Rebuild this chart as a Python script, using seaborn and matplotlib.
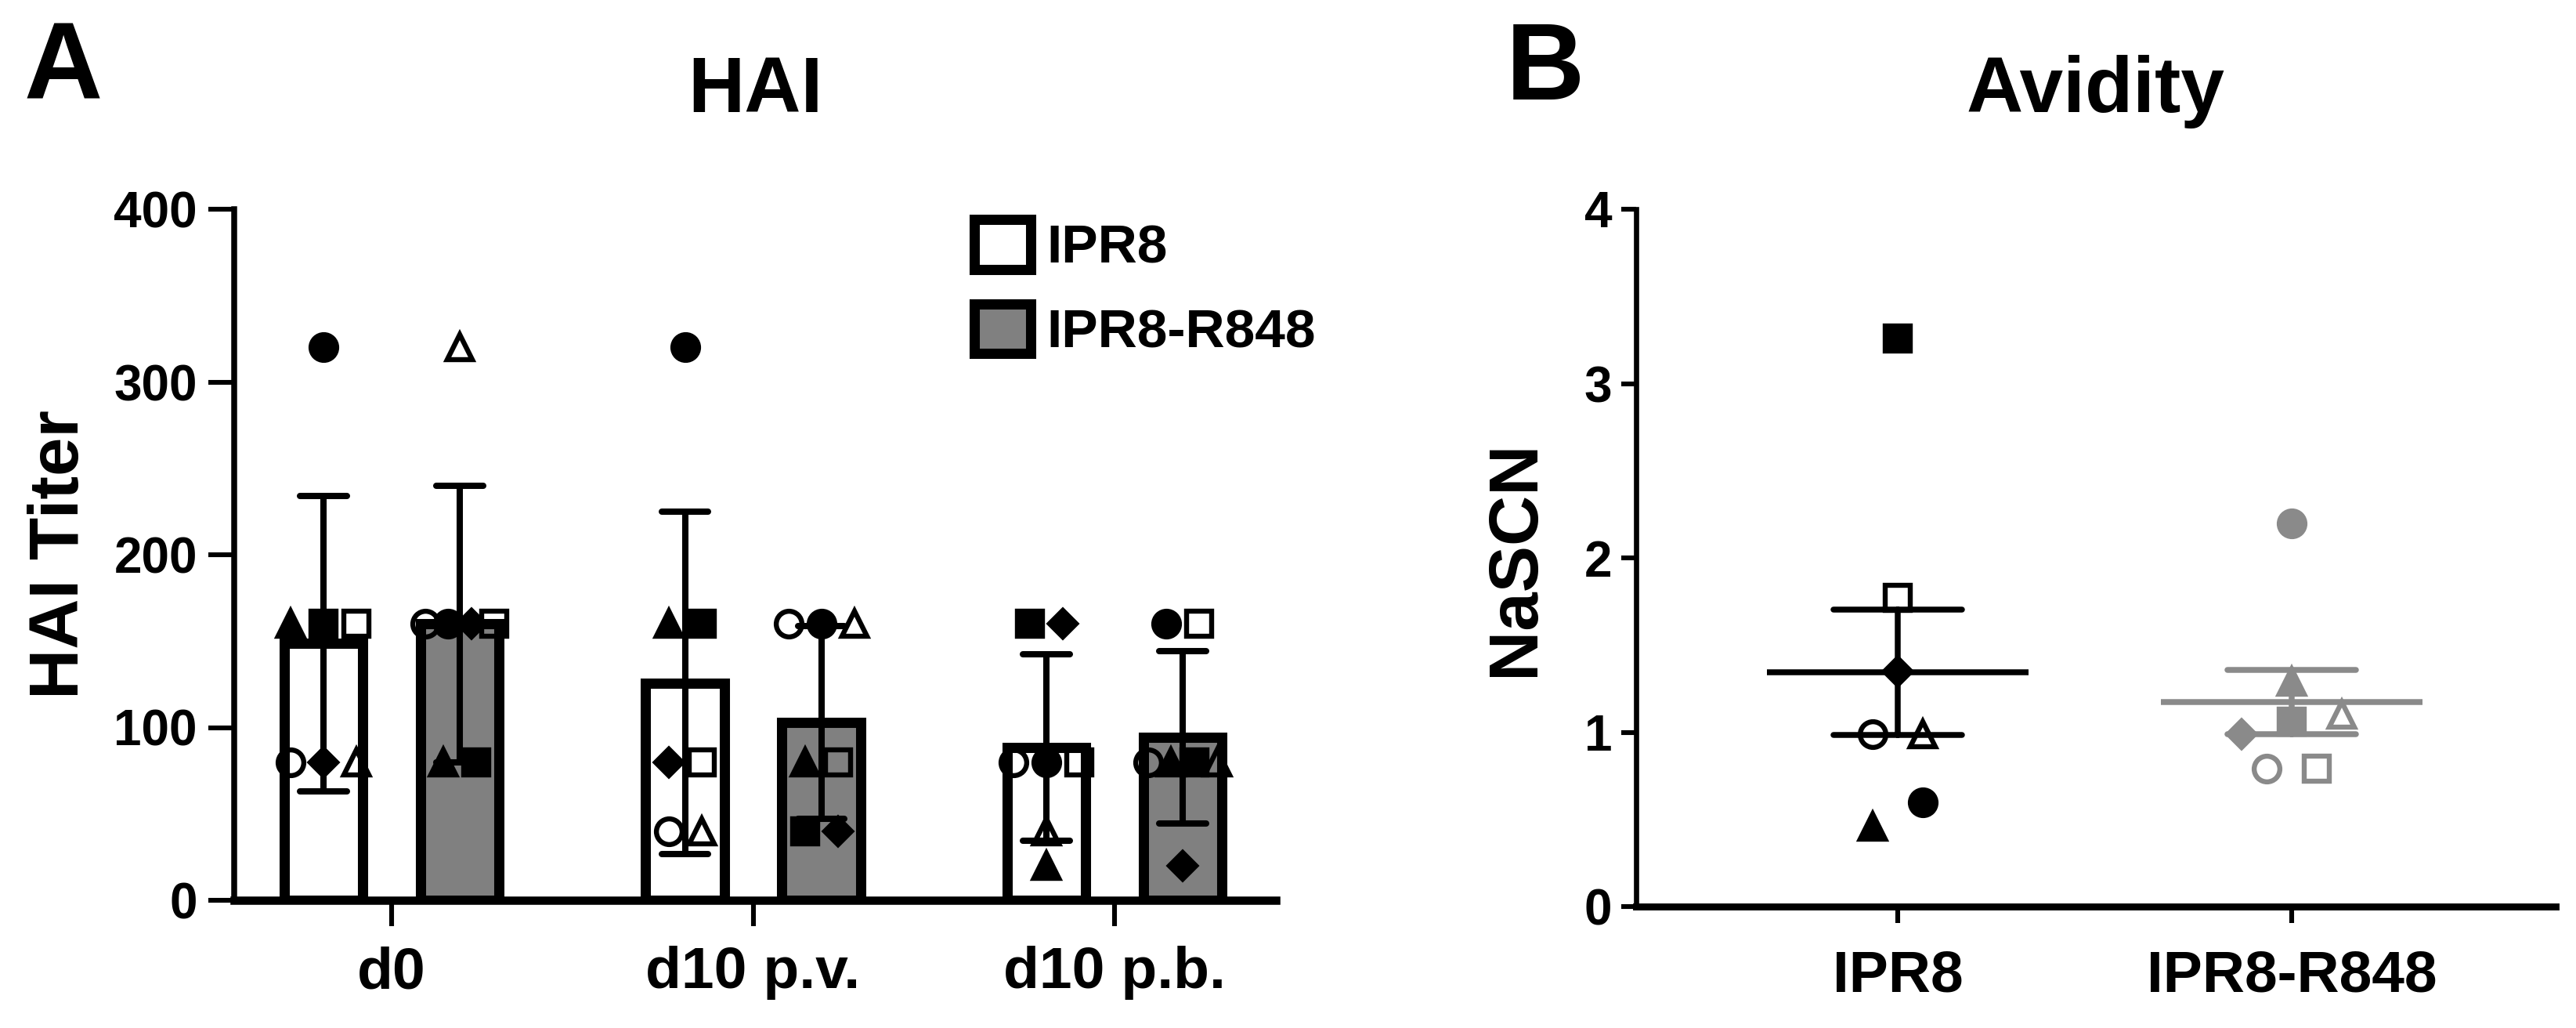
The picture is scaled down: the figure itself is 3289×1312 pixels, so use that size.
"""
Figura HAI (barras + puntos por raton) y avidez (NaSCN, media +/- SEM).
"""

import numpy as np
import pandas as pd
import matplotlib
matplotlib.use('Agg')
import matplotlib.pyplot as plt
from matplotlib.patches import Patch
import seaborn as sns

# ---------------------------------------------------------------
# Datos
# ---------------------------------------------------------------
days = ['d0', 'd10 p.v.', 'd10 p.b.']
groups = ['IPR8', 'IPR8-R848']

# Un simbolo por raton (mismo orden en todas las listas)
animal_markers = ['o', 'o', '^', 's', 'D', 's', '^']
animal_filled = [False, True, True, True, True, False, False]

# Titulos HAI por dia y grupo
hai_d0_ipr8 = [80, 320, 160, 160, 80, 160, 80]
hai_d0_r848 = [160, 160, 80, 80, 160, 160, 320]
hai_pv_ipr8 = [40, 320, 160, 160, 80, 80, 40]
hai_pv_r848 = [160, 160, 80, 40, 40, 80, 160]
hai_pb_ipr8 = [80, 80, 20, 160, 160, 80, 40]
hai_pb_r848 = [80, 160, 80, 80, 20, 160, 80]

# Avidez (NaSCN)
avidity_ipr8 = [0.99, 0.60, 0.46, 3.26, 1.35, 1.77, 0.99]
avidity_r848 = [0.79, 2.20, 1.29, 1.06, 0.99, 0.79, 1.10]

hai_ticks = [0, 100, 200, 300, 400]
avidity_ticks = [0, 1, 2, 3, 4]

bar_colors = {'IPR8': 'white', 'IPR8-R848': '#808080'}
point_colors = {'IPR8': 'black', 'IPR8-R848': '#8a8a8a'}

# ---------------------------------------------------------------
# Estilo
# ---------------------------------------------------------------
sns.set_style('ticks')
plt.rcParams['font.family'] = ['Liberation Sans', 'DejaVu Sans']
plt.rcParams['font.weight'] = 'bold'
plt.rcParams['axes.labelweight'] = 'bold'
for key in ['text.color', 'axes.labelcolor', 'axes.edgecolor',
            'xtick.color', 'ytick.color']:
    plt.rcParams[key] = 'black'

W, H, DPI = 3289, 1312, 200
MS = 11.8          # tamano de marcador (pt)
MEW = 2.3          # borde de marcador (pt)
BAR_WIDTH = 0.754  # ancho total de cada grupo de barras


def spread_offsets(vals, thr, step, max_span):
    """Reparte en horizontal los puntos con valores (casi) iguales."""
    order = sorted(range(len(vals)), key=lambda i: vals[i])
    clusters = []
    for i in order:
        if clusters and vals[i] - vals[clusters[-1][-1]] < thr:
            clusters[-1].append(i)
        else:
            clusters.append([i])
    offs = np.zeros(len(vals))
    for c in clusters:
        n = len(c)
        if n < 2:
            continue
        st = min(step, max_span / (n - 1))
        for k, i in enumerate(c):
            offs[i] = (k - (n - 1) / 2) * st
    return offs


def draw_points(ax, x0, vals, color, thr, step, max_span):
    offs = spread_offsets(vals, thr, step, max_span)
    for k, v in enumerate(vals):
        m = animal_markers[k]
        size = MS * 0.72 if m == 'D' else MS
        face = color if animal_filled[k] else 'none'
        ax.plot(x0 + offs[k], v, marker=m, ms=size, mfc=face, mec=color,
                mew=MEW, ls='none', zorder=6, clip_on=False)


fig = plt.figure(figsize=(W / DPI, H / DPI), dpi=DPI)
axA = fig.add_axes([299 / W, 1 - 1149 / H, (1629 - 299) / W, (1149 - 267) / H])
axB = fig.add_axes([2089 / W, 1 - 1157 / H, (3263 - 2089) / W, (1157 - 267) / H])

# ---------------------------------------------------------------
# Panel A: HAI
# ---------------------------------------------------------------
hai_ipr8 = [hai_d0_ipr8, hai_pv_ipr8, hai_pb_ipr8]
hai_r848 = [hai_d0_r848, hai_pv_r848, hai_pb_r848]

rows = []
for day, v1, v2 in zip(days, hai_ipr8, hai_r848):
    for g, vals in zip(groups, [v1, v2]):
        for k, v in enumerate(vals):
            rows.append({'day': day, 'group': g, 'animal': k, 'value': v})
df_hai = pd.DataFrame(rows)

sns.barplot(data=df_hai, x='day', y='value', hue='group', order=days,
            hue_order=groups, palette=bar_colors, saturation=1,
            edgecolor='black', linewidth=4.7, width=BAR_WIDTH, gap=0.42,
            errorbar='sd', capsize=0.256,
            err_kws={'linewidth': 2.9, 'color': 'black'},
            legend=False, ax=axA)

for d, day in enumerate(days):
    for h, g in enumerate(groups):
        x0 = d + (h - 0.5) * BAR_WIDTH / 2
        vals = hai_ipr8[d] if g == 'IPR8' else hai_r848[d]
        draw_points(axA, x0, vals, 'black', thr=1, step=0.091, max_span=0.19)

axA.set_ylim(0, 400)
axA.set_yticks(hai_ticks)
axA.set_xlim(-0.4355, 2.4463)
axA.set_xlabel('')
axA.set_ylabel('HAI Titer', fontsize=32)
axA.yaxis.set_label_coords(-0.135, 0.5)
axA.tick_params(axis='y', labelsize=23, length=12, width=2.2, pad=5)
axA.tick_params(axis='x', labelsize=27, length=12, width=2.2, pad=9)
sns.despine(ax=axA)
axA.spines['left'].set_linewidth(2.7)
axA.spines['bottom'].set_linewidth(3.8)

handles = [Patch(facecolor=bar_colors[g], edgecolor='black', linewidth=4.7,
                 label=g) for g in groups]
axA.legend(handles=handles, loc='upper left',
           bbox_to_anchor=(1244 / W, 1 - 280 / H), bbox_transform=fig.transFigure,
           frameon=False, fontsize=25, handlelength=1.03, handleheight=1.03,
           handletextpad=0.3, labelspacing=0.55, borderpad=0, borderaxespad=0)

# ---------------------------------------------------------------
# Panel B: avidez
# ---------------------------------------------------------------
df_av = pd.DataFrame({
    'group': [groups[0]] * len(avidity_ipr8) + [groups[1]] * len(avidity_r848),
    'value': avidity_ipr8 + avidity_r848,
})

sns.pointplot(data=df_av, x='group', y='value', hue='group', order=groups,
              hue_order=groups, palette=point_colors, errorbar='se',
              capsize=0.327, markers='_', markersize=120, markeredgewidth=2.7,
              linestyle='none', err_kws={'linewidth': 2.7}, legend=False,
              ax=axB)

for h, g in enumerate(groups):
    vals = avidity_ipr8 if g == 'IPR8' else avidity_r848
    draw_points(axB, h, vals, point_colors[g], thr=0.16, step=0.128, max_span=0.3)

axB.set_ylim(0, 4)
axB.set_yticks(avidity_ticks)
axB.set_xlim(-0.664, 1.670)
axB.set_xlabel('')
axB.set_ylabel('NaSCN', fontsize=32)
axB.yaxis.set_label_coords(-0.095, 0.5)
axB.tick_params(axis='y', labelsize=23, length=7, width=2.2, pad=4)
axB.tick_params(axis='x', labelsize=27, length=7.5, width=2.2, pad=12)
sns.despine(ax=axB)
axB.spines['left'].set_linewidth(2.4)
axB.spines['bottom'].set_linewidth(3.2)

# Titulos y letras de panel
fig.text(964 / W, 1 - 143 / H, 'HAI', ha='center', va='baseline',
         fontsize=36, fontweight='bold')
fig.text(2676 / W, 1 - 143 / H, 'Avidity', ha='center', va='baseline',
         fontsize=36, fontweight='bold')
fig.text(31 / W, 1 - 127 / H, 'A', ha='left', va='baseline',
         fontsize=50, fontweight='bold')
fig.text(1923 / W, 1 - 127 / H, 'B', ha='left', va='baseline',
         fontsize=50, fontweight='bold')

fig.savefig('out.png', dpi=DPI)
